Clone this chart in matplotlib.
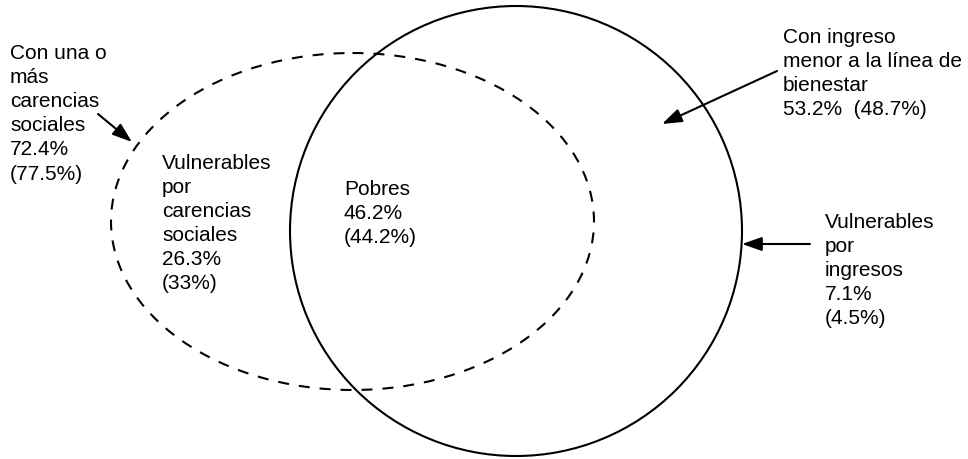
import matplotlib.pyplot as plt
from matplotlib.patches import Ellipse

plt.rcParams['font.family'] = ['Liberation Sans', 'DejaVu Sans']

# shares of population, current year and (previous year)
carencias = [72.4, 77.5]
vuln_carencias = [26.3, 33]
pobres = [46.2, 44.2]
ingreso_bajo = [53.2, 48.7]
vuln_ingresos = [7.1, 4.5]


def pct(v):
    return f"{v:g}%"


fig = plt.figure(figsize=(9.68, 4.6), dpi=100)
ax = fig.add_axes([0, 0, 1, 1])
ax.set_xlim(0, 968)
ax.set_ylim(460, 0)
ax.axis('off')

lw = 1.5
# carencias sociales (dashed) and ingreso (solid)
ax.add_patch(Ellipse((352.5, 222.5), 483, 337, fill=False, ec='black', lw=lw,
                     linestyle=(0, (7.9 / lw, 7.2 / lw))))
ax.add_patch(Ellipse((516, 232), 452, 450, fill=False, ec='black', lw=lw))

fs = 15
kw = dict(fontsize=fs, va='top', ha='left', color='black', linespacing=1.34)

ax.text(10, 44, "Con una o\nmás\ncarencias\nsociales\n"
        f"{pct(carencias[0])}\n({pct(carencias[1])})", **kw)
ax.text(162, 154, "Vulnerables\npor\ncarencias\nsociales\n"
        f"{pct(vuln_carencias[0])}\n({pct(vuln_carencias[1])})", **kw)
ax.text(344, 180, f"Pobres\n{pct(pobres[0])}\n({pct(pobres[1])})", **kw)
ax.text(783, 28, "Con ingreso\nmenor a la línea de\nbienestar\n"
        f"{pct(ingreso_bajo[0])}  ({pct(ingreso_bajo[1])})", **kw)
ax.text(825, 213, "Vulnerables\npor\ningresos\n"
        f"{pct(vuln_ingresos[0])}\n({pct(vuln_ingresos[1])})", **kw)

arrow = dict(arrowstyle='-|>,head_length=1.0,head_width=0.35', color='black',
             lw=lw, shrinkA=0, shrinkB=0, mutation_scale=12)
ax.annotate('', xy=(132, 143), xytext=(98, 115), arrowprops=arrow)
ax.annotate('', xy=(662, 125), xytext=(777, 72), arrowprops=arrow)
ax.annotate('', xy=(742, 245), xytext=(810, 245), arrowprops=arrow)

fig.savefig('out.png', dpi=100)
